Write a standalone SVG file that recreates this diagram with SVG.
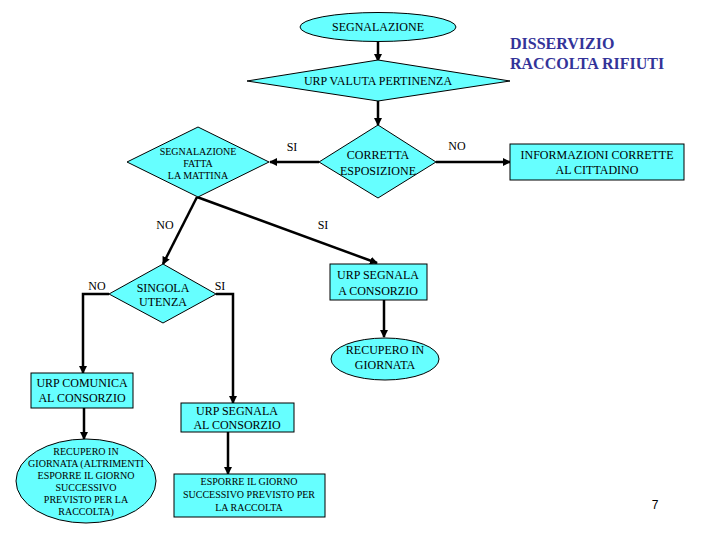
<svg xmlns="http://www.w3.org/2000/svg" width="720" height="540" viewBox="0 0 720 540">
<defs>
<marker id="ah" markerWidth="8" markerHeight="8" refX="7" refY="4" orient="auto" markerUnits="userSpaceOnUse">
<path d="M0,0 L8,4 L0,8 Z" fill="#000"/>
</marker>
<style>
.n{fill:#66FFFF;stroke:#000;stroke-width:1}
.t{font-family:'Liberation Serif',serif;font-size:12px;fill:#000;text-anchor:middle}
.s{font-size:10px}
.l{font-family:'Liberation Serif',serif;font-size:12px;fill:#000;text-anchor:middle}
.h{font-family:'Liberation Serif',serif;font-size:16px;font-weight:bold;fill:#333399}
.ca{fill:none;stroke:#000;stroke-width:2.5;marker-end:url(#ah)}
</style>
</defs>
<rect width="720" height="540" fill="#fff"/>
<text class="h" x="510" y="49">DISSERVIZIO</text>
<text class="h" x="510" y="69">RACCOLTA RIFIUTI</text>
<g id="connectors">
<line class="ca" x1="378" y1="42" x2="378" y2="61"/>
<line class="ca" x1="378" y1="100" x2="378" y2="125"/>
<line class="ca" x1="319" y1="162" x2="270" y2="162"/>
<line class="ca" x1="436" y1="162" x2="510" y2="162"/>
<line class="ca" x1="197" y1="197" x2="163" y2="264"/>
<line class="ca" x1="197" y1="197" x2="377" y2="263"/>
<polyline class="ca" points="109,294 83,294 83,373"/>
<polyline class="ca" points="216,294 233,294 233,403"/>
<line class="ca" x1="384" y1="300" x2="384" y2="337"/>
<line class="ca" x1="84" y1="408" x2="84" y2="439"/>
<line class="ca" x1="228" y1="432" x2="228" y2="474"/>
<text class="l" x="292" y="151">SI</text>
<text class="l" x="457" y="150">NO</text>
<text class="l s" x="165" y="229">NO</text>
<text class="l s" x="323" y="229">SI</text>
<text class="l s" x="97" y="290">NO</text>
<text class="l s" x="220" y="290">SI</text>
</g>
<g id="segnalazione">
<ellipse class="n" cx="378" cy="27" rx="78" ry="14.5"/>
<text class="t" x="378" y="31">SEGNALAZIONE</text>
</g>
<g id="urp-valuta">
<polygon class="n" points="247,81 378,60 510,81 378,101"/>
<text class="t" x="378" y="85">URP VALUTA PERTINENZA</text>
</g>
<g id="corretta">
<polygon class="n" points="319,162 378,125 436,162 378,198"/>
<text class="t" x="378" y="159">CORRETTA</text>
<text class="t" x="378" y="175">ESPOSIZIONE</text>
</g>
<g id="fatta-mattina">
<polygon class="n" points="127,162 198,127 269,162 198,197"/>
<text class="t s" x="198" y="155">SEGNALAZIONE</text>
<text class="t s" x="198" y="167">FATTA</text>
<text class="t s" x="198" y="179">LA MATTINA</text>
</g>
<g id="informazioni">
<rect class="n" x="510" y="144" width="174" height="36"/>
<text class="t" x="597" y="159">INFORMAZIONI CORRETTE</text>
<text class="t" x="597" y="174">AL CITTADINO</text>
</g>
<g id="singola">
<polygon class="n" points="109,294 163,264 216,294 163,323"/>
<text class="t" x="163" y="292">SINGOLA</text>
<text class="t" x="163" y="306">UTENZA</text>
</g>
<g id="urp-segnala-a">
<rect class="n" x="330" y="264" width="97" height="36"/>
<text class="t" x="378" y="279">URP SEGNALA</text>
<text class="t" x="378" y="295">A CONSORZIO</text>
</g>
<g id="recupero">
<ellipse class="n" cx="385" cy="359" rx="54" ry="21"/>
<text class="t" x="385" y="354">RECUPERO IN</text>
<text class="t" x="385" y="369">GIORNATA</text>
</g>
<g id="urp-comunica">
<rect class="n" x="31" y="373" width="102" height="35"/>
<text class="t" x="82" y="387">URP COMUNICA</text>
<text class="t" x="82" y="402">AL CONSORZIO</text>
</g>
<g id="recupero-altrimenti">
<ellipse class="n" cx="86" cy="481" rx="70" ry="42"/>
<text class="t s" x="86" y="455">RECUPERO IN</text>
<text class="t s" x="86" y="467">GIORNATA (ALTRIMENTI</text>
<text class="t s" x="86" y="479">ESPORRE IL GIORNO</text>
<text class="t s" x="86" y="491">SUCCESSIVO</text>
<text class="t s" x="86" y="503">PREVISTO PER LA</text>
<text class="t s" x="86" y="515">RACCOLTA)</text>
</g>
<g id="urp-segnala-al">
<rect class="n" x="181" y="403" width="113" height="29"/>
<text class="t" x="237" y="415">URP SEGNALA</text>
<text class="t" x="237" y="429">AL CONSORZIO</text>
</g>
<g id="esporre">
<rect class="n" x="174" y="474" width="151" height="43"/>
<text class="t s" x="249" y="485">ESPORRE IL GIORNO</text>
<text class="t s" x="249" y="498">SUCCESSIVO PREVISTO PER</text>
<text class="t s" x="249" y="511">LA RACCOLTA</text>
</g>
<text x="655" y="509" font-family="'Liberation Sans',sans-serif" font-size="12" text-anchor="middle">7</text>
</svg>
